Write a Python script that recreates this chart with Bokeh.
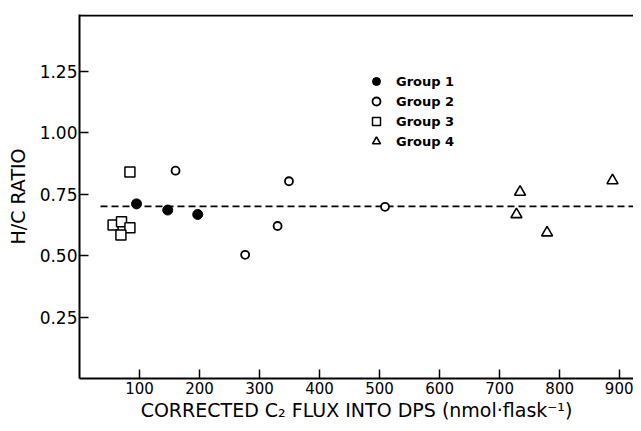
from bokeh.plotting import figure
from bokeh.models import Range1d, FixedTicker, Legend, LegendItem, Span, PrintfTickFormatter
from bokeh.embed import file_html
from bokeh.resources import INLINE

# Data
g1_x = [95, 147, 197]
g1_y = [0.71, 0.685, 0.667]
g2_x = [160, 276, 330, 349, 509]
g2_y = [0.845, 0.503, 0.62, 0.802, 0.698]
g3_x = [84, 56, 70, 84, 69]
g3_y = [0.84, 0.624, 0.637, 0.613, 0.583]
g4_x = [734, 728, 779, 888]
g4_y = [0.758, 0.667, 0.593, 0.805]
mean_x = [35, 923]
mean_y = [0.70, 0.70]

x_ticks = [100, 200, 300, 400, 500, 600, 700, 800, 900]
y_ticks = [0.25, 0.50, 0.75, 1.00, 1.25]
group_labels = ["Group 1", "Group 2", "Group 3", "Group 4"]

FONT = "DejaVu Sans"

p = figure(width=633, height=423, output_backend="svg", toolbar_location=None,
           x_range=Range1d(0, 923), y_range=Range1d(0, 1.48),
           min_border_left=79, min_border_right=0, min_border_top=14, min_border_bottom=42)
p.outline_line_color = None
p.grid.visible = False
p.background_fill_color = "white"

p.add_layout(Span(location=1.476, dimension="width", line_color="black", line_width=2))

p.line(mean_x, mean_y, line_color="black", line_width=1.6, line_dash="7 4")

r1 = p.scatter(g1_x, g1_y, marker="circle", size=10, fill_color="black", line_color="black")
r2 = p.scatter(g2_x, g2_y, marker="circle", size=8, fill_color="white", line_color="black", line_width=1.8)
r3 = p.scatter(g3_x, g3_y, marker="square", size=10, fill_color="white", line_color="black", line_width=1.5)
r4 = p.scatter(g4_x, g4_y, marker="triangle", size=11, fill_color="white", line_color="black", line_width=1.6)

legend = Legend(items=[LegendItem(label=group_labels[0], renderers=[r1]),
                       LegendItem(label=group_labels[1], renderers=[r2]),
                       LegendItem(label=group_labels[2], renderers=[r3]),
                       LegendItem(label=group_labels[3], renderers=[r4])],
                location=(286, 227), padding=0, margin=0, spacing=0,
                glyph_width=22, glyph_height=20, label_height=20, label_standoff=9,
                border_line_color=None, background_fill_alpha=0,
                label_text_font=FONT, label_text_font_size="13px", label_text_font_style="bold",
                label_text_color="black")
p.add_layout(legend, "center")

for ax in (p.xaxis[0], p.yaxis[0]):
    ax.axis_line_color = "black"
    ax.axis_line_width = 2
    ax.major_tick_line_color = "black"
    ax.major_tick_line_width = 1.5
    ax.major_tick_in = 9
    ax.major_tick_out = 0
    ax.minor_tick_line_color = None
    ax.major_label_text_color = "black"
    ax.major_label_text_font = FONT
    ax.axis_label_text_font = FONT
    ax.axis_label_text_font_style = "normal"
    ax.axis_label_text_color = "black"

p.xaxis.ticker = FixedTicker(ticks=x_ticks)
p.xaxis.major_label_text_font_size = "15px"
p.xaxis.major_label_standoff = 3
p.xaxis.axis_label = "CORRECTED C\u2082 FLUX INTO DPS (nmol\u00b7flask\u207b\u00b9)"
p.xaxis.axis_label_text_font_size = "19px"
p.xaxis.axis_label_standoff = 2

p.yaxis.ticker = FixedTicker(ticks=y_ticks)
p.yaxis.formatter = PrintfTickFormatter(format="%.2f")
p.yaxis.major_label_text_font_size = "17px"
p.yaxis.major_label_standoff = 2
p.yaxis.axis_label = "H/C RATIO"
p.yaxis.axis_label_text_font_size = "19px"
p.yaxis.axis_label_standoff = 8

open("out.html", "w").write(file_html(p, INLINE))
